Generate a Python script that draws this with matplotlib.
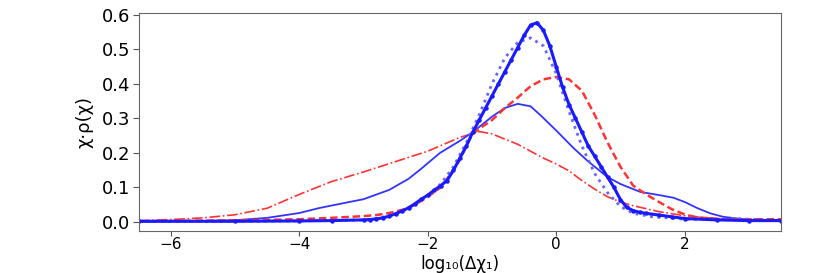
import numpy as np
import matplotlib
matplotlib.use("Agg")
import matplotlib.pyplot as plt

# curve values (x = log10 of delta chi_1)
x_thick = [-6.5, -5.0, -4.0, -3.5, -3.0, -2.9, -2.8, -2.7, -2.6, -2.5, -2.4, -2.3, -2.2, -2.1,
           -2.0, -1.9, -1.8, -1.7, -1.6, -1.5, -1.4, -1.3, -1.2, -1.1, -1.0, -0.9, -0.8,
           -0.7, -0.6, -0.5, -0.4, -0.3, -0.2, -0.1, 0.0, 0.1, 0.2, 0.3, 0.4, 0.5, 0.6,
           0.7, 0.8, 0.9, 1.0, 1.1, 1.2, 1.3, 1.4, 1.6, 1.8, 2.0, 2.5, 3.0, 3.5]
y_thick = [0.002, 0.002, 0.003, 0.004, 0.006, 0.007, 0.009, 0.012, 0.017, 0.024, 0.032, 0.041,
           0.053, 0.066, 0.078, 0.092, 0.105, 0.12, 0.15, 0.185, 0.22, 0.26, 0.295, 0.33,
           0.365, 0.40, 0.435, 0.47, 0.505, 0.54, 0.57, 0.577, 0.555, 0.51, 0.45, 0.39,
           0.34, 0.30, 0.26, 0.22, 0.19, 0.16, 0.13, 0.10, 0.065, 0.042, 0.033, 0.028,
           0.025, 0.02, 0.015, 0.01, 0.006, 0.004, 0.004]

x_dot = [-6.5, -5.0, -4.0, -3.0, -2.8, -2.6, -2.4, -2.2, -2.0, -1.8, -1.6, -1.4, -1.2, -1.0,
         -0.8, -0.6, -0.4, -0.2, 0.0, 0.2, 0.4, 0.6, 0.8, 1.0, 1.2, 1.5, 2.0, 2.5, 2.8, 3.2, 3.5]
y_dot = [0.001, 0.002, 0.003, 0.006, 0.01, 0.018, 0.03, 0.05, 0.075, 0.11, 0.16, 0.23, 0.31,
         0.40, 0.475, 0.52, 0.533, 0.51, 0.43, 0.32, 0.22, 0.14, 0.085, 0.045, 0.025, 0.015,
         0.008, 0.008, 0.01, 0.006, 0.004]

x_dash = [-6.5, -5.5, -4.5, -4.0, -3.5, -3.0, -2.8, -2.6, -2.4, -2.2, -2.0, -1.8, -1.6, -1.5,
          -1.4, -1.3, -1.2, -1.0, -0.8, -0.6, -0.4, -0.2, 0.0, 0.2, 0.4, 0.6, 0.8, 1.0,
          1.2, 1.4, 1.6, 1.8, 2.0, 2.2, 2.6, 3.0, 3.5]
y_dash = [0.002, 0.004, 0.006, 0.008, 0.012, 0.017, 0.02, 0.026, 0.035, 0.05, 0.073, 0.10,
          0.15, 0.18, 0.22, 0.255, 0.27, 0.295, 0.33, 0.36, 0.393, 0.413, 0.42, 0.413, 0.38,
          0.31, 0.23, 0.16, 0.105, 0.08, 0.058, 0.037, 0.022, 0.013, 0.008, 0.008, 0.008]

x_thin = [-6.5, -5.5, -5.0, -4.5, -4.0, -3.7, -3.3, -3.0, -2.6, -2.3, -2.13, -1.81, -1.5, -1.3,
          -1.0, -0.8, -0.6, -0.4, -0.25, 0.0, 0.27, 0.5, 0.8, 1.0, 1.31, 1.6, 1.83, 2.0,
          2.2, 2.4, 2.6, 3.0, 3.5]
y_thin = [0.001, 0.003, 0.005, 0.012, 0.026, 0.04, 0.055, 0.066, 0.093, 0.125, 0.15, 0.20,
          0.235, 0.26, 0.305, 0.33, 0.342, 0.335, 0.31, 0.265, 0.214, 0.175, 0.13, 0.11,
          0.087, 0.078, 0.07, 0.058, 0.04, 0.025, 0.015, 0.006, 0.004]

x_dd = [-6.5, -6.0, -5.5, -5.0, -4.5, -4.0, -3.5, -3.0, -2.5, -2.0, -1.5, -1.2, -1.0, -0.8,
        -0.6, -0.4, -0.2, 0.0, 0.2, 0.4, 0.6, 0.8, 1.0, 1.2, 1.6, 2.0, 2.5, 3.0, 3.5]
y_dd = [0.004, 0.007, 0.012, 0.021, 0.04, 0.08, 0.117, 0.145, 0.175, 0.205, 0.245, 0.262,
        0.255, 0.24, 0.225, 0.205, 0.185, 0.168, 0.148, 0.12, 0.095, 0.073, 0.058, 0.047,
        0.03, 0.018, 0.01, 0.007, 0.006]

fig = plt.figure(figsize=(8.22, 2.73), dpi=100)
ax = fig.add_axes([0.169, 0.154, 0.781, 0.797])

ax.plot(x_dd, y_dd, color="#ff3333", lw=1.2, ls="-.")
ax.plot(x_thin, y_thin, color="#3333ff", lw=1.3, ls="-")
ax.plot(x_dash, y_dash, color="#ff3333", lw=1.8, ls="--", dashes=(3, 1.5))
ax.plot(x_dot, y_dot, color="#6666ff", lw=2.0, ls=":")
ax.plot(x_thick, y_thick, color="#1a1aff", lw=2.2, marker="o", ms=2.2)

ax.set_xlim(-6.5, 3.5)
ax.set_ylim(-0.026, 0.604)
ax.set_xticks([-6, -4, -2, 0, 2])
ax.set_xticklabels(["\u22126", "\u22124", "\u22122", "0", "2"])
ax.set_yticks([0.0, 0.1, 0.2, 0.3, 0.4, 0.5, 0.6])
ax.set_yticklabels(["0.0", "0.1", "0.2", "0.3", "0.4", "0.5", "0.6"])
ax.tick_params(labelsize=13, length=4, pad=2, color="#555555", top=False, right=False)
ax.tick_params(axis="x", labelsize=11, length=3.5, pad=0.5)
for s in ax.spines.values():
    s.set_color("#666666")

ax.set_ylabel("\u03c7\u00b7\u03c1(\u03c7)", fontsize=13, labelpad=6)
ax.set_xlabel("log\u2081\u2080(\u0394\u03c7\u2081)", fontsize=12, va="bottom")
ax.xaxis.set_label_coords(0.5, -0.191)

fig.savefig("out.png", dpi=100)
